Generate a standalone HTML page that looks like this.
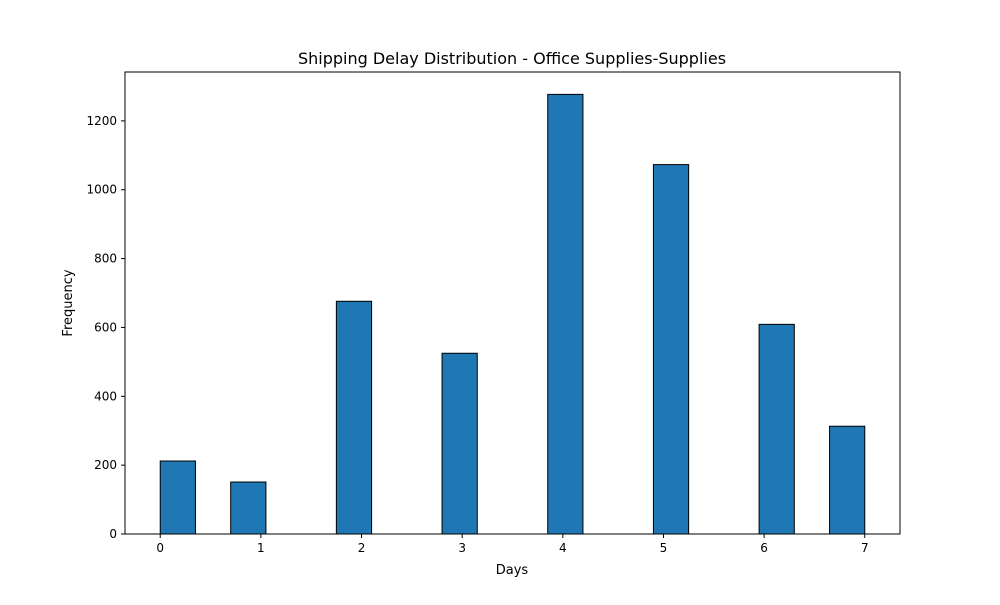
<!DOCTYPE html>
<html><head><meta charset="utf-8"><style>
body{margin:0;background:#fff;}
svg text{font-family:"DejaVu Sans","Liberation Sans",sans-serif;fill:#000;}
</style></head><body>
<svg id="chart" width="1000" height="600">
<rect width="1000" height="600" fill="#fff"/>
<text x="512" y="64" font-size="16" text-anchor="middle">Shipping Delay Distribution - Office Supplies-Supplies</text>
<g id="bars"></g>
<g id="xticks"></g>
<g id="yticks"></g>
<rect x="125" y="72" width="775" height="462" fill="none" stroke="#000" stroke-width="1"/>
<text x="512" y="574" font-size="13" text-anchor="middle">Days</text>
<text x="72" y="303" font-size="13" text-anchor="middle" transform="rotate(-90 72 303)">Frequency</text>
</svg>
<script>
const binStarts=[0,0.7,1.75,2.8,3.85,4.9,5.95,6.65];
const counts=[212,151,676,525,1277,1073,609,313];
const binWidth=0.35;
const xTicks=[0,1,2,3,4,5,6,7];
const yTicks=[0,200,400,600,800,1000,1200];
const NS="http://www.w3.org/2000/svg";
const L=125,R=900,T=72,B=534,xmin=-0.35,xmax=7.35,ymax=1342;
const xs=v=>L+(v-xmin)/(xmax-xmin)*(R-L);
const ys=v=>B-v/ymax*(B-T);
const bars=document.getElementById('bars');
binStarts.forEach((s,i)=>{
 const r=document.createElementNS(NS,'rect');
 r.setAttribute('x',xs(s));r.setAttribute('width',xs(s+binWidth)-xs(s));
 r.setAttribute('y',ys(counts[i]));r.setAttribute('height',B-ys(counts[i]));
 r.setAttribute('fill','#1f77b4');r.setAttribute('stroke','#000');r.setAttribute('stroke-width','1');
 
 
 bars.appendChild(r);
});
const xg=document.getElementById('xticks');
xTicks.forEach(t=>{
 const l=document.createElementNS(NS,'line');
 l.setAttribute('x1',xs(t));l.setAttribute('x2',xs(t));l.setAttribute('y1',B);l.setAttribute('y2',B+4);l.setAttribute('stroke','#000');
 
 
 xg.appendChild(l);
 const tx=document.createElementNS(NS,'text');
 tx.setAttribute('x',xs(t));tx.setAttribute('y',B+18);tx.setAttribute('font-size','12');tx.setAttribute('text-anchor','middle');tx.textContent=t;
 
 
 xg.appendChild(tx);
});
const yg=document.getElementById('yticks');
yTicks.forEach(t=>{
 const l=document.createElementNS(NS,'line');
 l.setAttribute('x1',L-4);l.setAttribute('x2',L);l.setAttribute('y1',ys(t));l.setAttribute('y2',ys(t));l.setAttribute('stroke','#000');
 
 
 yg.appendChild(l);
 const tx=document.createElementNS(NS,'text');
 tx.setAttribute('x',L-8);tx.setAttribute('y',ys(t)+4);tx.setAttribute('font-size','12');tx.setAttribute('text-anchor','end');tx.textContent=t;
 
 
 yg.appendChild(tx);
});
</script>
</body></html>
